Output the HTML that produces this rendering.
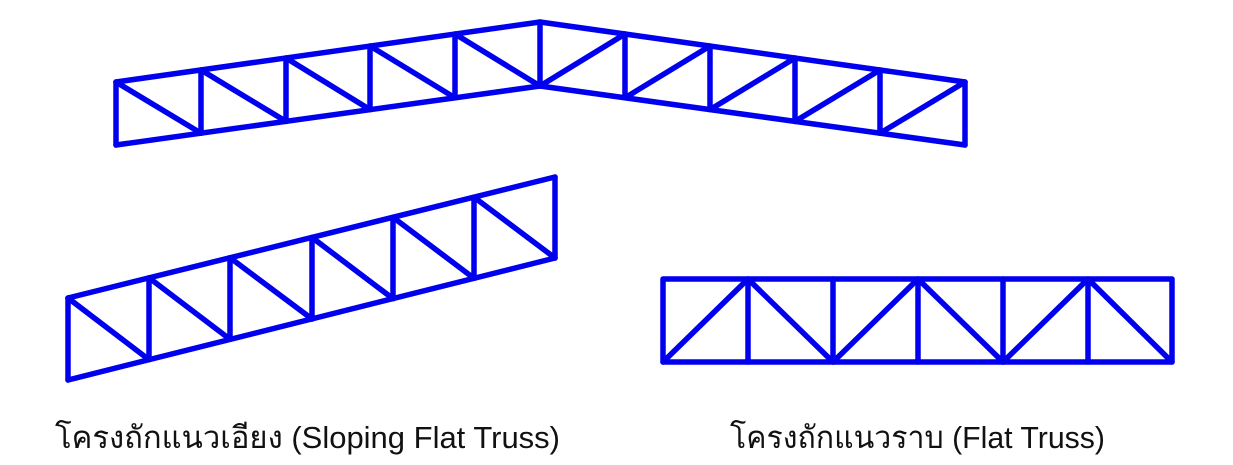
<!DOCTYPE html>
<html><head><meta charset="utf-8"><style>
body{margin:0;width:1233px;height:465px;background:#fff;overflow:hidden}
svg{position:absolute;left:0;top:0}
.t{font-family:"Liberation Sans",sans-serif;font-size:31px;fill:#111}
</style></head><body>
<svg width="1233" height="465" viewBox="0 0 1233 465">
<g stroke="#0000ee" stroke-width="5.5" stroke-linecap="round" stroke-linejoin="round" fill="none">
<polyline points="116,82 540,22 965,82"/>
<polyline points="116,145 540,86 965,145"/>
<path d="M116,82V145 M201,70V133.2 M286,58V121.4 M370,46V109.6 M455,34V97.8 M540,22V86 M625,34V97.8 M710,46V109.6 M795,58V121.4 M880,70V133.2 M965,82V145"/>
<path d="M116,82L201,133.2 M201,70L286,121.4 M286,58L370,109.6 M370,46L455,97.8 M455,34L540,86"/>
<path d="M540,86L625,34 M625,97.8L710,46 M710,109.6L795,58 M795,121.4L880,70 M880,133.2L965,82"/>
<line x1="68" y1="298" x2="555" y2="177"/>
<line x1="68" y1="380" x2="555" y2="258"/>
<path d="M68,298V380 M149,277.8V359.7 M230,257.7V339.3 M312,237.5V319 M393,217.3V298.7 M474,197.2V278.3 M555,177V258"/>
<path d="M68,298L149,359.7 M149,277.8L230,339.3 M230,257.7L312,319 M312,237.5L393,298.7 M393,217.3L474,278.3 M474,197.2L555,258"/>
<rect x="663" y="279" width="509" height="83"/>
<path d="M748,279V362 M833,279V362 M918,279V362 M1003,279V362 M1088,279V362"/>
<path d="M663,362L748,279L833,362L918,279L1003,362L1088,279L1172,362"/>
</g>
<text class="t" x="55" y="448" textLength="505" lengthAdjust="spacingAndGlyphs">โครงถักแนวเอียง (Sloping Flat Truss)</text>
<text class="t" x="730" y="448" textLength="375" lengthAdjust="spacingAndGlyphs">โครงถักแนวราบ (Flat Truss)</text>
</svg>
</body></html>
